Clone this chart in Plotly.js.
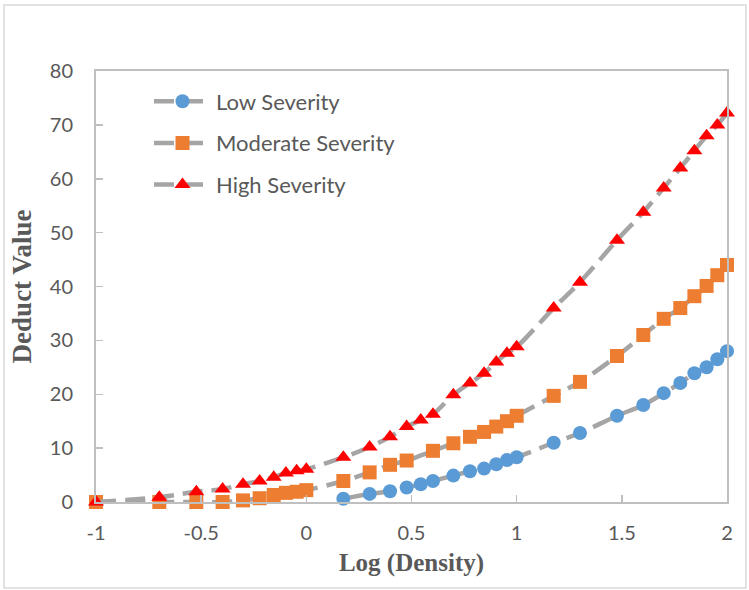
<!DOCTYPE html>
<html>
<head>
<meta charset="utf-8">
<script src="https://cdn.plot.ly/plotly-3.0.1.min.js"></script>
<style>
  html, body { margin: 0; padding: 0; background: #ffffff; }
  #chart { width: 749px; height: 590px; }
</style>
</head>
<body>
<div id="chart"></div>
<script>
// Deduct value curves against log(density) for three severity levels
const seriesNames = ["Low Severity", "Moderate Severity", "High Severity"];

const lowLogDensity = [0.176, 0.301, 0.398, 0.477, 0.544, 0.602, 0.699, 0.778, 0.845, 0.903, 0.954, 1,
  1.176, 1.301, 1.477, 1.602, 1.699, 1.778, 1.845, 1.903, 1.954, 2];
const lowDeduct = [0.6, 1.5, 2.0, 2.7, 3.3, 3.9, 4.9, 5.7, 6.2, 7.0, 7.8, 8.3,
  11.0, 12.8, 16.0, 18.0, 20.2, 22.1, 23.9, 25.0, 26.5, 28.0];

const moderateLogDensity = [-1, -0.699, -0.523, -0.398, -0.301, -0.222, -0.155, -0.097, -0.046, 0,
  0.176, 0.301, 0.398, 0.477, 0.602, 0.699, 0.778, 0.845, 0.903, 0.954, 1,
  1.176, 1.301, 1.477, 1.602, 1.699, 1.778, 1.845, 1.903, 1.954, 2];
const moderateDeduct = [0, 0, 0, 0, 0.3, 0.7, 1.3, 1.7, 1.9, 2.2,
  3.9, 5.5, 6.9, 7.7, 9.5, 10.9, 12.1, 13.0, 14.0, 15.0, 16.0,
  19.7, 22.3, 27.1, 31.0, 34.0, 36.0, 38.2, 40.1, 42.1, 44.0];

const highLogDensity = [-1, -0.699, -0.523, -0.398, -0.301, -0.222, -0.155, -0.097, -0.046, 0,
  0.176, 0.301, 0.398, 0.477, 0.544, 0.602, 0.699, 0.778, 0.845, 0.903, 0.954, 1,
  1.176, 1.301, 1.477, 1.602, 1.699, 1.778, 1.845, 1.903, 1.954, 2];
const highDeduct = [0, 0.9, 1.9, 2.4, 3.3, 3.9, 4.6, 5.4, 5.8, 6.1,
  8.3, 10.2, 12.1, 14.0, 15.2, 16.3, 19.9, 22.1, 23.9, 26.0, 27.6, 28.8,
  36.0, 40.8, 48.6, 53.8, 58.3, 62.0, 65.2, 68.0, 70.0, 72.2];

const xTickValues = [-1, -0.5, 0, 0.5, 1, 1.5, 2];
const xTickLabels = ["-1", "-0.5", "0", "0.5", "1", "1.5", "2"];
const yTickValues = [0, 10, 20, 30, 40, 50, 60, 70, 80];

const lineStyle = { color: "#A5A5A5", width: 4.5, dash: "20px,9px", shape: "spline", smoothing: 1 };

function makeTrace(name, xs, ys, marker, group) {
  return {
    type: "scatter",
    mode: "lines+markers",
    name: name,
    legendgroup: group,
    x: xs,
    y: ys,
    line: lineStyle,
    marker: marker,
    cliponaxis: false,
    hoverinfo: "x+y+name"
  };
}

const traces = [
  makeTrace(seriesNames[0], lowLogDensity, lowDeduct,
    { symbol: "circle", size: 14, color: "#5B9BD5" }, "g1"),
  makeTrace(seriesNames[1], moderateLogDensity, moderateDeduct,
    { symbol: "square", size: 14, color: "#ED7D31" }, "g2"),
  makeTrace(seriesNames[2], highLogDensity, highDeduct,
    { symbol: "triangle-up", size: 14, color: "#FF0000" }, "g3")
];

const axisFont = { family: "Lato, 'Open Sans', sans-serif", size: 20, color: "#595959" };
const serif = "'Liberation Serif', 'Times New Roman', serif";

const layout = {
  width: 749,
  height: 590,
  margin: { l: 96, r: 22, t: 71, b: 88 },
  paper_bgcolor: "#ffffff",
  plot_bgcolor: "#ffffff",
  showlegend: true,
  legend: {
    x: 0.084, y: 0.978, xanchor: "left", yanchor: "top",
    font: { family: "Lato, 'Open Sans', sans-serif", size: 22, color: "#595959" },
    bgcolor: "rgba(0,0,0,0)",
    traceorder: "grouped",
    tracegroupgap: 10,
    itemwidth: 57
  },
  xaxis: {
    range: [-1, 2],
    tickvals: xTickValues,
    ticktext: xTickLabels,
    ticks: "inside",
    ticklen: 7,
    tickcolor: "#BFBFBF",
    tickwidth: 1.5,
    showline: true,
    linecolor: "#BFBFBF",
    linewidth: 2,
    mirror: true,
    showgrid: false,
    zeroline: false,
    tickfont: axisFont,
    ticklabelstandoff: 12,
    title: { text: "Log (Density)", font: { family: serif, size: 25, color: "#595959", weight: "bold" }, standoff: 10 },
    automargin: false
  },
  yaxis: {
    range: [0, 80],
    tickvals: yTickValues,
    ticks: "inside",
    ticklen: 7,
    tickcolor: "#BFBFBF",
    tickwidth: 1.5,
    showline: true,
    linecolor: "#BFBFBF",
    linewidth: 2,
    mirror: true,
    showgrid: false,
    zeroline: false,
    tickfont: axisFont,
    ticklabelstandoff: 17,
    title: { text: "Deduct Value", font: { family: serif, size: 27, color: "#595959", weight: "bold" }, standoff: 10 },
    automargin: false
  },
  shapes: [{
    type: "rect", xref: "paper", yref: "paper",
    x0: -0.1458, x1: 1.030, y0: -0.1995, y1: 1.1531,
    line: { color: "#D9D9D9", width: 1.5 },
    fillcolor: "rgba(0,0,0,0)",
    layer: "below"
  }]
};

Plotly.newPlot("chart", traces, layout, { displayModeBar: false, staticPlot: true });
</script>
</body>
</html>
